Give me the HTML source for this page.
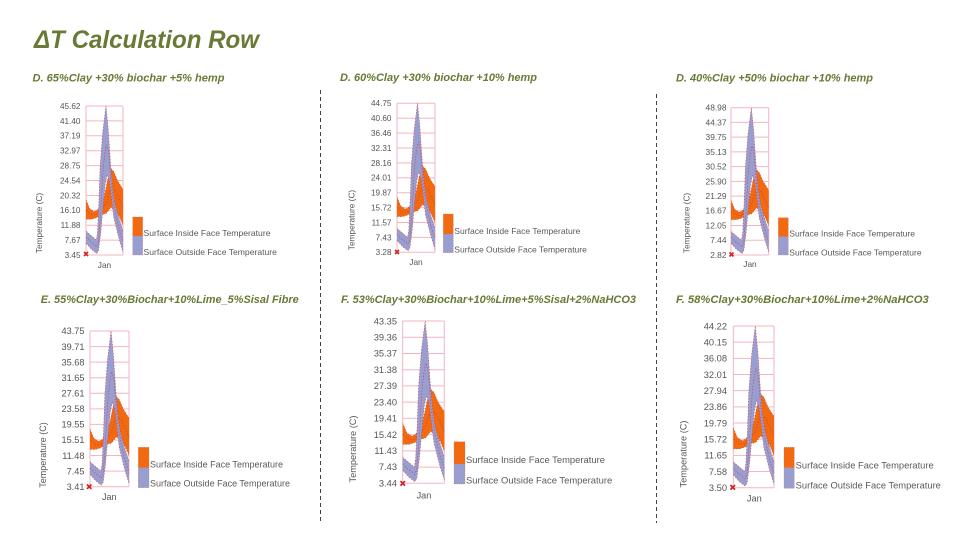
<!DOCTYPE html>
<html><head><meta charset="utf-8"><style>
html,body{margin:0;padding:0;background:#fff;}
svg{display:block;}
text{font-family:"Liberation Sans",Arial,sans-serif;}
.ttl{font-weight:bold;font-style:italic;fill:#687a35;}
.tk{fill:#555;}
.lg{fill:#5a5a5a;}
</style></head><body>
<svg width="960" height="540" viewBox="0 0 960 540" xmlns="http://www.w3.org/2000/svg">
<defs>
<g id="bd">
  <polygon fill="#f26a10" points="0,63 10,69 22,71 30,70 40,67 50,60 58,50 67,42 75,44 85,50 100,56 100,80 90,74 80,70 67,68 55,72 40,73 28,75 15,76 0,76"/>
  <g fill="none" stroke="#c8283a" stroke-width="0.55" stroke-dasharray="1.5,1.5" opacity="0.8">
  <polyline vector-effect="non-scaling-stroke" points="0,63 10,69 22,71 30,70 40,67 50,60 58,50 67,42 75,44 85,50 100,56"/>
  <polyline vector-effect="non-scaling-stroke" points="0,76 15,76 28,75 40,73 55,72 67,68 80,70 90,74 100,80"/>
  <polyline vector-effect="non-scaling-stroke" points="0,70 15,73 28,73 40,70 55,65 67,55 80,57 100,68"/>
  </g>
  <polygon fill="#989fd0" points="0,84 14,87 28,90 31,85 35,63 38,41 45,18 54,0 60,15 64,30 67,41 72,55 78,65 88,74 100,84 100,98 88,88 75,75 68,60 63,50 57,46 52,52 46,68 40,85 34,97 29,99 14,96 0,92"/>
  <g fill="none" stroke="#c83848" stroke-width="0.6" stroke-dasharray="1.5,1.5" opacity="0.85">
  <polyline vector-effect="non-scaling-stroke" points="0,84 14,87 28,90 31,85 35,63 38,41 45,18 54,0 60,15 64,30 67,41 72,55 78,65 88,74 100,84"/>
  <polyline vector-effect="non-scaling-stroke" points="0,92 14,96 29,99 34,97 40,85 46,68 52,52 57,46 63,50 68,60 75,75 88,88 100,98"/>
  <polyline vector-effect="non-scaling-stroke" points="0,88 14,91.5 29,94.5 34,91 40,70 46,43 52,30 56,26 62,32 67,50 73,63 80,72 88,81 100,91"/>
  </g>
</g>
<g id="grid">
  <g stroke="#f3b6bf" stroke-width="1" fill="none">
    <line x1="0" y1="0" x2="100" y2="0" vector-effect="non-scaling-stroke"/>
    <line x1="0" y1="10" x2="100" y2="10" vector-effect="non-scaling-stroke"/>
    <line x1="0" y1="20" x2="100" y2="20" vector-effect="non-scaling-stroke"/>
    <line x1="0" y1="30" x2="100" y2="30" vector-effect="non-scaling-stroke"/>
    <line x1="0" y1="40" x2="100" y2="40" vector-effect="non-scaling-stroke"/>
    <line x1="0" y1="50" x2="100" y2="50" vector-effect="non-scaling-stroke"/>
    <line x1="0" y1="60" x2="100" y2="60" vector-effect="non-scaling-stroke"/>
    <line x1="0" y1="70" x2="100" y2="70" vector-effect="non-scaling-stroke"/>
    <line x1="0" y1="80" x2="100" y2="80" vector-effect="non-scaling-stroke"/>
    <line x1="0" y1="90" x2="100" y2="90" vector-effect="non-scaling-stroke"/>
    <line x1="0" y1="100" x2="100" y2="100" vector-effect="non-scaling-stroke"/>
    <line x1="0" y1="0" x2="0" y2="100" vector-effect="non-scaling-stroke"/>
    <line x1="100" y1="0" x2="100" y2="100" vector-effect="non-scaling-stroke"/>
  </g>
</g>
</defs>
<rect width="960" height="540" fill="#fff"/>

<!-- Main title -->
<text class="ttl" x="34" y="48" font-size="25" textLength="225" lengthAdjust="spacingAndGlyphs">ΔT Calculation Row</text>

<!-- Dividers -->
<line x1="320.5" y1="90" x2="320.5" y2="523" stroke="#444" stroke-width="1" stroke-dasharray="4,3"/>
<line x1="656.5" y1="94" x2="656.5" y2="523" stroke="#444" stroke-width="1" stroke-dasharray="4,3"/>

<!-- ========== Chart 1 ========== -->
<text class="ttl" x="32.5" y="81.3" font-size="11" textLength="192" lengthAdjust="spacingAndGlyphs">D. 65%Clay +30% biochar +5% hemp</text>
<use href="#grid" transform="translate(86,106) scale(0.37,1.49)"/>
<use href="#bd" transform="translate(86,106) scale(0.37,1.49)"/>
<g class="tk" font-size="8.2" text-anchor="end">
<text x="80.5" y="108.9">45.62</text><text x="80.5" y="123.8">41.40</text><text x="80.5" y="138.7">37.19</text><text x="80.5" y="153.6">32.97</text><text x="80.5" y="168.5">28.75</text><text x="80.5" y="183.4">24.54</text><text x="80.5" y="198.3">20.32</text><text x="80.5" y="213.2">16.10</text><text x="80.5" y="228.1">11.88</text><text x="80.5" y="243.0">7.67</text><text x="80.5" y="257.9">3.45</text>
</g>
<text class="tk" font-size="8.3" text-anchor="middle" transform="translate(39,223) rotate(-90)" y="2.9">Temperature (C)</text>
<text class="tk" font-size="8.3" text-anchor="middle" x="104.5" y="268">Jan</text>
<path d="M84,252 l4,4 M88,252 l-4,4" stroke="#d42020" stroke-width="1.6"/>
<rect x="132.7" y="217" width="10" height="19" fill="#f26a10" stroke="#e07070" stroke-width="0.5" stroke-dasharray="1,1"/>
<rect x="132.7" y="236" width="10" height="19" fill="#989fd0" stroke="#d07080" stroke-width="0.5" stroke-dasharray="1,1"/>
<text class="lg" x="143.5" y="236.2" font-size="8.5" textLength="127" lengthAdjust="spacingAndGlyphs">Surface Inside Face Temperature</text>
<text class="lg" x="143.5" y="255.2" font-size="8.5" textLength="133.4" lengthAdjust="spacingAndGlyphs">Surface Outside Face Temperature</text>

<!-- ========== Chart 2 ========== -->
<text class="ttl" x="340" y="81" font-size="11" textLength="197" lengthAdjust="spacingAndGlyphs">D. 60%Clay +30% biochar +10% hemp</text>
<use href="#grid" transform="translate(397,103.3) scale(0.38,1.49)"/>
<use href="#bd" transform="translate(397,103.3) scale(0.38,1.49)"/>
<g class="tk" font-size="8.2" text-anchor="end">
<text x="391.5" y="106.2">44.75</text><text x="391.5" y="121.1">40.60</text><text x="391.5" y="136.0">36.46</text><text x="391.5" y="150.9">32.31</text><text x="391.5" y="165.8">28.16</text><text x="391.5" y="180.7">24.01</text><text x="391.5" y="195.6">19.87</text><text x="391.5" y="210.5">15.72</text><text x="391.5" y="225.4">11.57</text><text x="391.5" y="240.3">7.43</text><text x="391.5" y="255.2">3.28</text>
</g>
<text class="tk" font-size="8.3" text-anchor="middle" transform="translate(351.7,220) rotate(-90)" y="2.9">Temperature (C)</text>
<text class="tk" font-size="8.3" text-anchor="middle" x="416" y="265">Jan</text>
<path d="M395,250 l4,4 M399,250 l-4,4" stroke="#d42020" stroke-width="1.6"/>
<rect x="443.3" y="214" width="10" height="20" fill="#f26a10" stroke="#e07070" stroke-width="0.5" stroke-dasharray="1,1"/>
<rect x="443.3" y="234" width="10" height="18.7" fill="#989fd0" stroke="#d07080" stroke-width="0.5" stroke-dasharray="1,1"/>
<text class="lg" x="454.3" y="234" font-size="8.5" textLength="126" lengthAdjust="spacingAndGlyphs">Surface Inside Face Temperature</text>
<text class="lg" x="454.3" y="252.3" font-size="8.5" textLength="132.6" lengthAdjust="spacingAndGlyphs">Surface Outside Face Temperature</text>

<!-- ========== Chart 3 ========== -->
<text class="ttl" x="676" y="81.3" font-size="11" textLength="197" lengthAdjust="spacingAndGlyphs">D. 40%Clay +50% biochar +10% hemp</text>
<use href="#grid" transform="translate(731,107.7) scale(0.377,1.473)"/>
<use href="#bd" transform="translate(731,107.7) scale(0.377,1.473)"/>
<g class="tk" font-size="8.4" text-anchor="end">
<text x="726.5" y="110.6">48.98</text><text x="726.5" y="125.3">44.37</text><text x="726.5" y="140.1">39.75</text><text x="726.5" y="154.8">35.13</text><text x="726.5" y="169.5">30.52</text><text x="726.5" y="184.3">25.90</text><text x="726.5" y="199.0">21.29</text><text x="726.5" y="213.7">16.67</text><text x="726.5" y="228.4">12.05</text><text x="726.5" y="243.2">7.44</text><text x="726.5" y="257.9">2.82</text>
</g>
<text class="tk" font-size="8.3" text-anchor="middle" transform="translate(686.7,223) rotate(-90)" y="2.9">Temperature (C)</text>
<text class="tk" font-size="8.3" text-anchor="middle" x="750" y="267">Jan</text>
<path d="M729.5,252.5 l4,4 M733.5,252.5 l-4,4" stroke="#d42020" stroke-width="1.6"/>
<rect x="778.3" y="217.7" width="10" height="19" fill="#f26a10" stroke="#e07070" stroke-width="0.5" stroke-dasharray="1,1"/>
<rect x="778.3" y="236.7" width="10" height="18.3" fill="#989fd0" stroke="#d07080" stroke-width="0.5" stroke-dasharray="1,1"/>
<text class="lg" x="789.3" y="236.7" font-size="8.4" textLength="125.7" lengthAdjust="spacingAndGlyphs">Surface Inside Face Temperature</text>
<text class="lg" x="789.3" y="255.3" font-size="8.4" textLength="132.3" lengthAdjust="spacingAndGlyphs">Surface Outside Face Temperature</text>

<!-- ========== Chart 4 ========== -->
<text class="ttl" x="40.7" y="303" font-size="11" textLength="258" lengthAdjust="spacingAndGlyphs">E. 55%Clay+30%Biochar+10%Lime_5%Sisal Fibre</text>
<use href="#grid" transform="translate(90,331) scale(0.39,1.557)"/>
<use href="#bd" transform="translate(90,331) scale(0.39,1.557)"/>
<g class="tk" font-size="9.2" text-anchor="end">
<text x="84.5" y="334.2">43.75</text><text x="84.5" y="349.8">39.71</text><text x="84.5" y="365.3">35.68</text><text x="84.5" y="380.9">31.65</text><text x="84.5" y="396.5">27.61</text><text x="84.5" y="412.1">23.58</text><text x="84.5" y="427.6">19.55</text><text x="84.5" y="443.2">15.51</text><text x="84.5" y="458.8">11.48</text><text x="84.5" y="474.3">7.45</text><text x="84.5" y="489.9">3.41</text>
</g>
<text class="tk" font-size="9" text-anchor="middle" transform="translate(42.7,455) rotate(-90)" y="3.2">Temperature (C)</text>
<text class="tk" font-size="9" text-anchor="middle" x="109.3" y="500.2">Jan</text>
<path d="M87,484.5 l4.4,4.4 M91.4,484.5 l-4.4,4.4" stroke="#d42020" stroke-width="1.7"/>
<rect x="138.3" y="447.3" width="10.7" height="20.4" fill="#f26a10" stroke="#e07070" stroke-width="0.5" stroke-dasharray="1,1"/>
<rect x="138.3" y="467.7" width="10.7" height="20" fill="#989fd0" stroke="#d07080" stroke-width="0.5" stroke-dasharray="1,1"/>
<text class="lg" x="150" y="467.5" font-size="8.9" textLength="133" lengthAdjust="spacingAndGlyphs">Surface Inside Face Temperature</text>
<text class="lg" x="150" y="486.5" font-size="8.9" textLength="140" lengthAdjust="spacingAndGlyphs">Surface Outside Face Temperature</text>

<!-- ========== Chart 5 ========== -->
<text class="ttl" x="341" y="303" font-size="11" textLength="295" lengthAdjust="spacingAndGlyphs">F. 53%Clay+30%Biochar+10%Lime+5%Sisal+2%NaHCO3</text>
<use href="#grid" transform="translate(402.7,321) scale(0.416,1.623)"/>
<use href="#bd" transform="translate(402.7,321) scale(0.416,1.623)"/>
<g class="tk" font-size="9.3" text-anchor="end">
<text x="397" y="324.3">43.35</text><text x="397" y="340.5">39.36</text><text x="397" y="356.7">35.37</text><text x="397" y="372.9">31.38</text><text x="397" y="389.2">27.39</text><text x="397" y="405.4">23.40</text><text x="397" y="421.6">19.41</text><text x="397" y="437.8">15.42</text><text x="397" y="454.0">11.43</text><text x="397" y="470.2">7.43</text><text x="397" y="486.5">3.44</text>
</g>
<text class="tk" font-size="9.2" text-anchor="middle" transform="translate(352.7,449) rotate(-90)" y="3.2">Temperature (C)</text>
<text class="tk" font-size="9.2" text-anchor="middle" x="424" y="498.3">Jan</text>
<path d="M400.4,481.1 l4.6,4.6 M405,481.1 l-4.6,4.6" stroke="#d42020" stroke-width="1.7"/>
<rect x="454" y="441.7" width="11" height="22.3" fill="#f26a10" stroke="#e07070" stroke-width="0.5" stroke-dasharray="1,1"/>
<rect x="454" y="464" width="11" height="20" fill="#989fd0" stroke="#d07080" stroke-width="0.5" stroke-dasharray="1,1"/>
<text class="lg" x="466" y="463" font-size="9.3" textLength="139" lengthAdjust="spacingAndGlyphs">Surface Inside Face Temperature</text>
<text class="lg" x="466" y="483.3" font-size="9.3" textLength="146.2" lengthAdjust="spacingAndGlyphs">Surface Outside Face Temperature</text>

<!-- ========== Chart 6 ========== -->
<text class="ttl" x="676" y="303" font-size="11" textLength="252.7" lengthAdjust="spacingAndGlyphs">F. 58%Clay+30%Biochar+10%Lime+2%NaHCO3</text>
<use href="#grid" transform="translate(733.3,326) scale(0.407,1.617)"/>
<use href="#bd" transform="translate(733.3,326) scale(0.407,1.617)"/>
<g class="tk" font-size="9.3" text-anchor="end">
<text x="727" y="329.3">44.22</text><text x="727" y="345.5">40.15</text><text x="727" y="361.7">36.08</text><text x="727" y="377.8">32.01</text><text x="727" y="394.0">27.94</text><text x="727" y="410.2">23.86</text><text x="727" y="426.4">19.79</text><text x="727" y="442.5">15.72</text><text x="727" y="458.7">11.65</text><text x="727" y="474.9">7.58</text><text x="727" y="491.0">3.50</text>
</g>
<text class="tk" font-size="9.2" text-anchor="middle" transform="translate(683.3,454) rotate(-90)" y="3.2">Temperature (C)</text>
<text class="tk" font-size="9.2" text-anchor="middle" x="754.3" y="501.6">Jan</text>
<path d="M730.4,485 l4.6,4.6 M735,485 l-4.6,4.6" stroke="#d42020" stroke-width="1.7"/>
<rect x="784" y="447.3" width="10.3" height="20.4" fill="#f26a10" stroke="#e07070" stroke-width="0.5" stroke-dasharray="1,1"/>
<rect x="784" y="467.7" width="10.3" height="20.6" fill="#989fd0" stroke="#d07080" stroke-width="0.5" stroke-dasharray="1,1"/>
<text class="lg" x="795.7" y="468.3" font-size="9.3" textLength="138" lengthAdjust="spacingAndGlyphs">Surface Inside Face Temperature</text>
<text class="lg" x="795.7" y="488.3" font-size="9.3" textLength="145.2" lengthAdjust="spacingAndGlyphs">Surface Outside Face Temperature</text>
</svg>
</body></html>
